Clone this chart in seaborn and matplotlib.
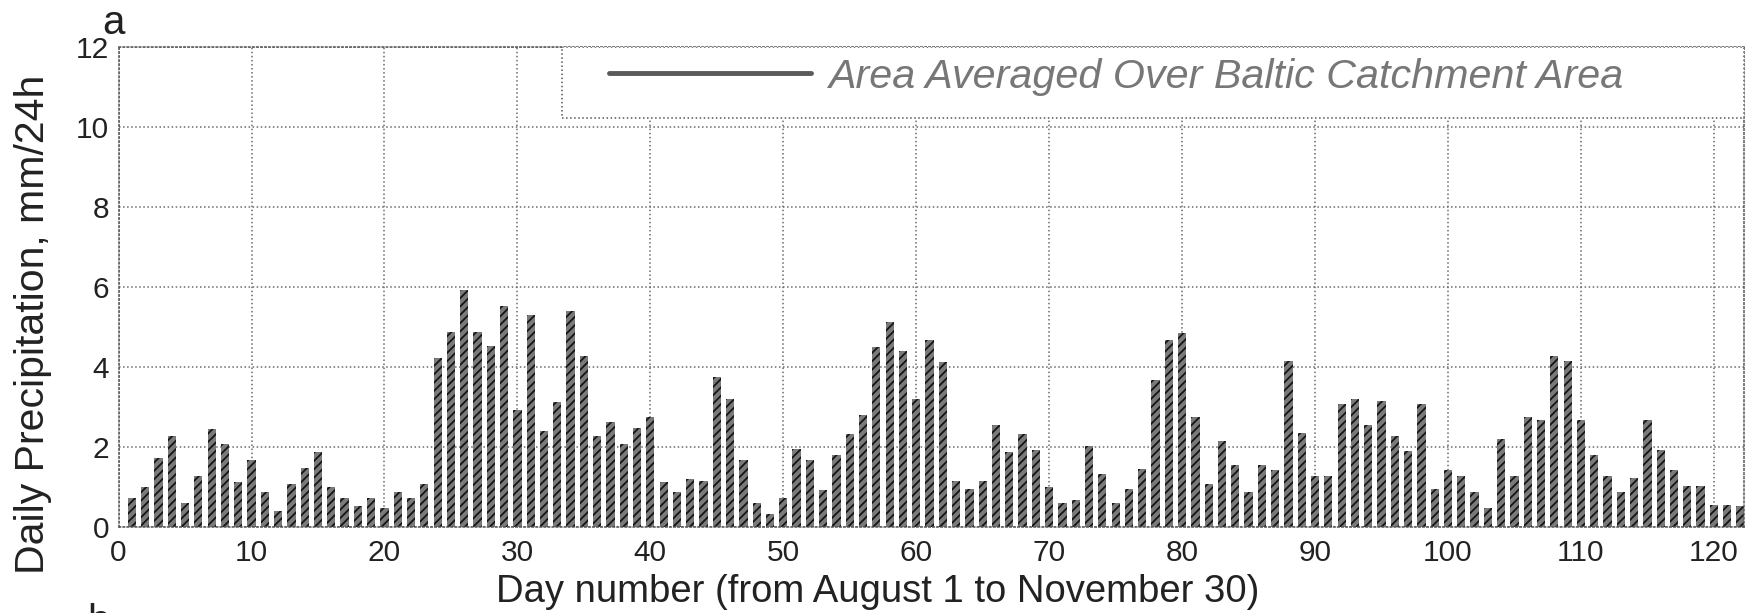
import matplotlib
matplotlib.use("Agg")
import matplotlib.pyplot as plt
from matplotlib.lines import Line2D
from matplotlib.patches import Rectangle
import seaborn as sns
import pandas as pd

# Daily precipitation averaged over the Baltic catchment, mm/24h (day 1 = August 1)
days = list(range(1, 123))
precip = [
    0.72, 1.00, 1.72, 2.27, 0.60, 1.27, 2.46, 2.08, 1.12, 1.67,
    0.87, 0.41, 1.07, 1.47, 1.87, 1.00, 0.72, 0.53, 0.72, 0.47,
    0.87, 0.72, 1.07, 4.22, 4.87, 5.92, 4.87, 4.52, 5.52, 2.93,
    5.31, 2.41, 3.13, 5.39, 4.27, 2.28, 2.62, 2.08, 2.47, 2.74,
    1.12, 0.87, 1.21, 1.14, 3.74, 3.21, 1.68, 0.60, 0.33, 0.72,
    1.95, 1.67, 0.93, 1.81, 2.33, 2.81, 4.50, 5.12, 4.39, 3.21,
    4.67, 4.12, 1.14, 0.95, 1.14, 2.54, 1.87, 2.33, 1.93, 1.00,
    0.60, 0.67, 2.02, 1.33, 0.60, 0.95, 1.46, 3.68, 4.67, 4.85,
    2.74, 1.07, 2.14, 1.54, 0.87, 1.54, 1.42, 4.14, 2.35, 1.28,
    1.28, 3.08, 3.21, 2.54, 3.14, 2.28, 1.89, 3.08, 0.95, 1.42,
    1.27, 0.87, 0.48, 2.21, 1.27, 2.74, 2.67, 4.27, 4.14, 2.67,
    1.81, 1.28, 0.87, 1.22, 2.67, 1.93, 1.42, 1.03, 1.02, 0.56,
    0.56, 0.53,
]
x_ticks = list(range(0, 121, 10))
y_ticks = list(range(0, 13, 2))
series_label = "Area Averaged Over Baltic Catchment Area"
x_label = "Day number (from August 1 to November 30)"
y_label = "Daily Precipitation, mm/24h"

sns.set_style("white")
plt.rcParams["font.family"] = ["Liberation Sans", "DejaVu Sans"]
plt.rcParams["hatch.linewidth"] = 1.3

df = pd.DataFrame({"day": days, "precip": precip})

fig = plt.figure(figsize=(17.52, 6.13), dpi=100)
ax = fig.add_axes([0.0677, 0.1403, 0.928, 0.783])

sns.barplot(data=df, x="day", y="precip", native_scale=True, width=0.62,
            color="#7a7a7a", saturation=1, ax=ax)
for bar in ax.patches:
    bar.set_hatch("////")
    bar.set_edgecolor("#151515")
    bar.set_linewidth(0)

ax.set_xlim(0, 122.3)
ax.set_ylim(0, 12)
ax.set_xticks(x_ticks)
ax.set_yticks(y_ticks)
ax.tick_params(axis="both", length=0, labelsize=21.5, colors="#222222")
ax.tick_params(axis="x", pad=9)
ax.tick_params(axis="y", pad=7)

ax.grid(True, linestyle=":", color="#6a6a6a", linewidth=1.1)
ax.set_axisbelow(True)
for sp in ax.spines.values():
    sp.set_visible(True)
    sp.set_linestyle(":")
    sp.set_color("#555555")
    sp.set_linewidth(1.1)

ax.set_xlabel(x_label, fontsize=27.5, color="#222222")
ax.set_ylabel(y_label, fontsize=29.5, color="#222222")
ax.xaxis.set_label_coords(0.4667, -0.098)
ax.yaxis.set_label_coords(-0.041, 0.423)

# Legend box with a dotted frame, spanning to the right edge of the axes
ax.add_patch(Rectangle((0.273, 0.852), 0.727, 0.148, transform=ax.transAxes,
                       fill=True, facecolor="white", edgecolor="#555555",
                       linestyle=":", linewidth=1.1, zorder=3))
handle = Line2D([], [], color="#5a5a5a", linewidth=3.5)
leg = ax.legend([handle], [series_label], loc="center left",
                bbox_to_anchor=(0.3016, 0.938), frameon=False,
                fontsize=29.7, handlelength=4.9, handletextpad=0.4,
                borderpad=0, borderaxespad=0)
for t in leg.get_texts():
    t.set_color("#777777")
    t.set_fontstyle("italic")
leg.set_zorder(4)

fig.text(0.0645, 0.962, "a", fontsize=29, color="#222222", ha="center", va="center")
fig.text(0.0565, 0.016, "b", fontsize=29, color="#222222", ha="center", va="top")

fig.savefig("out.png", dpi=100, facecolor="white")
